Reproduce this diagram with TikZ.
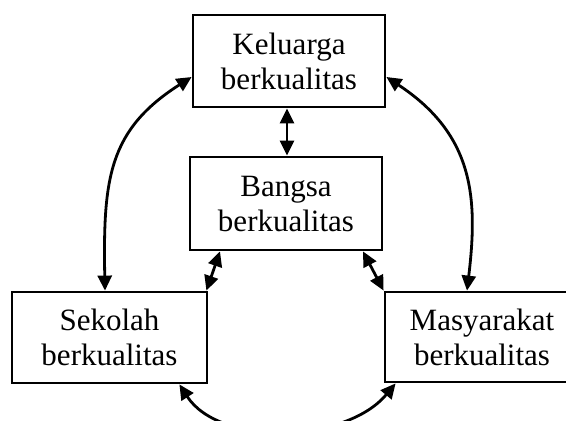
\documentclass[tikz,border=0pt]{standalone}
\usepackage{fontspec}
\setmainfont{Liberation Serif}
\usetikzlibrary{arrows.meta}
\tikzset{
  box/.style={draw, line width=2.8pt, align=center, inner sep=0pt,
    font=\fontsize{31}{35}\selectfont},
  link/.style={line width=2.8pt, >={Triangle[length=15pt,width=14pt]}, <->}
}
\begin{document}
\begin{tikzpicture}[x=1pt,y=-1pt]
\useasboundingbox (0,0) rectangle (566,421);
\clip (0,0) rectangle (566,421);
\node[box, minimum width=192pt, minimum height=92pt] (top) at (289,61) {Keluarga\\berkualitas};
\node[box, minimum width=192pt, minimum height=93pt] (mid) at (286,203.5) {Bangsa\\berkualitas};
\node[box, minimum width=195pt, minimum height=91pt] (left) at (109.5,337.5) {Sekolah\\berkualitas};
\node[box, minimum width=194pt, minimum height=90pt] (right) at (482,337) {Masyarakat\\berkualitas};
\draw[link] ([xshift=-2pt]top.south) -- ([xshift=1pt]mid.north);
\draw[link] ([yshift=-16pt]top.west) .. controls +(-83,53) and +(-2,-112) .. ([xshift=-4.5pt]left.north);
\draw[link] ([yshift=-16pt]top.east) .. controls +(88,58) and +(11,-92) .. ([xshift=-15pt]right.north);
\draw[link] ([xshift=-66pt]mid.south) -- ([xshift=-2pt]left.north east);
\draw[link] ([xshift=77pt]mid.south) -- (right.north west);
\draw[link] ([xshift=-29pt]left.south east) .. controls +(40,62) and +(-50,60) .. ([xshift=12pt]right.south west);
\end{tikzpicture}
\end{document}
